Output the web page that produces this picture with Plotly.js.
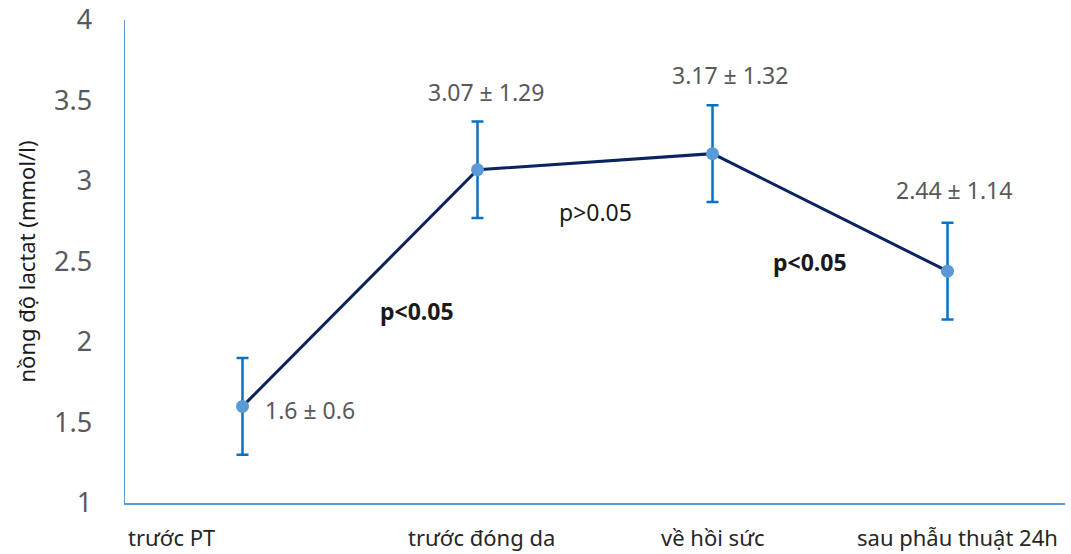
<!DOCTYPE html>
<html>
<head>
<meta charset="utf-8">
<script src="https://cdn.plot.ly/plotly-3.0.1.min.js"></script>
<style>html,body{margin:0;padding:0;background:#fff;}#chart{width:1071px;height:554px;}</style>
</head>
<body>
<div id="chart"></div>
<script>
const categories = ["trước PT", "trước đóng da", "về hồi sức", "sau phẫu thuật 24h"];
const meanValues = [1.6, 3.07, 3.17, 2.44];
const errorValues = [0.3, 0.3, 0.3, 0.3];
const pointLabels = ["1.6 ± 0.6", "3.07 ± 1.29", "3.17 ± 1.32", "2.44 ± 1.14"];
const yTicks = [1, 1.5, 2, 2.5, 3, 3.5, 4];
const pTexts = ["p<0.05", "p>0.05", "p<0.05"];

const xIdx = categories.map((c, i) => i);
const font = "'Noto Sans', 'Open Sans', sans-serif";

const trace = {
  x: xIdx,
  y: meanValues,
  type: "scatter",
  mode: "lines+markers",
  line: {color: "#0b2460", width: 3},
  marker: {color: "#5b9bd5", size: 13},
  error_y: {type: "data", array: errorValues, visible: true, color: "#0a72c4", thickness: 2.5, width: 6},
  hoverinfo: "skip",
  showlegend: false
};

const annotations = [];
// value labels
const labelPos = [
  {x: 0, y: 1.578, xanchor: "left", xshift: 20},
  {x: 1, y: 3.553, xanchor: "center", xshift: 8},
  {x: 2, y: 3.658, xanchor: "center", xshift: 17},
  {x: 3, y: 2.944, xanchor: "center", xshift: 6}
];
pointLabels.forEach((t, i) => {
  annotations.push({x: labelPos[i].x, y: labelPos[i].y, xref: "x", yref: "y", text: t, showarrow: false,
    xanchor: labelPos[i].xanchor, yanchor: "middle", xshift: labelPos[i].xshift,
    font: {family: font, size: 23, color: "#595959"}});
});
// p-values
const pPos = [{x: 0.743, y: 2.193, bold: true}, {x: 1.504, y: 2.807, bold: false}, {x: 2.415, y: 2.497, bold: true}];
pTexts.forEach((t, i) => {
  annotations.push({x: pPos[i].x, y: pPos[i].y, xref: "x", yref: "y", text: pPos[i].bold ? "<b>" + t + "</b>" : t,
    showarrow: false, xanchor: "center", yanchor: "middle",
    font: {family: font, size: 23, color: "#1a1a1a"}});
});
// category labels
const catShift = [-71, 4, 0, 10];
categories.forEach((c, i) => {
  annotations.push({x: i, y: 0, xref: "x", yref: "paper", text: c, showarrow: false, xanchor: "center", yanchor: "middle",
    xshift: catShift[i], yshift: -34, font: {family: font, size: 22, color: "#262626"}});
});

const layout = {
  width: 1071, height: 554,
  margin: {l: 125, r: 6, t: 20, b: 51},
  paper_bgcolor: "#ffffff", plot_bgcolor: "#ffffff",
  font: {family: font},
  xaxis: {range: [-0.5, 3.5], showgrid: false, zeroline: false, showline: true, linecolor: "#5b9bd5", linewidth: 1.5,
    showticklabels: false, ticks: "", fixedrange: true},
  yaxis: {range: [1, 4], tickvals: yTicks, ticktext: yTicks.map(String), showgrid: false, zeroline: false, showline: true,
    linecolor: "#5b9bd5", linewidth: 1.5, ticks: "", ticklabelstandoff: 26,
    tickfont: {family: font, size: 27, color: "#595959"},
    title: {text: "nồng độ lactat (mmol/l)", font: {family: font, size: 22, color: "#1a1a1a"}, standoff: 12}},
  annotations: annotations
};

Plotly.newPlot("chart", [trace], layout, {staticPlot: true, displayModeBar: false});
</script>
</body>
</html>
